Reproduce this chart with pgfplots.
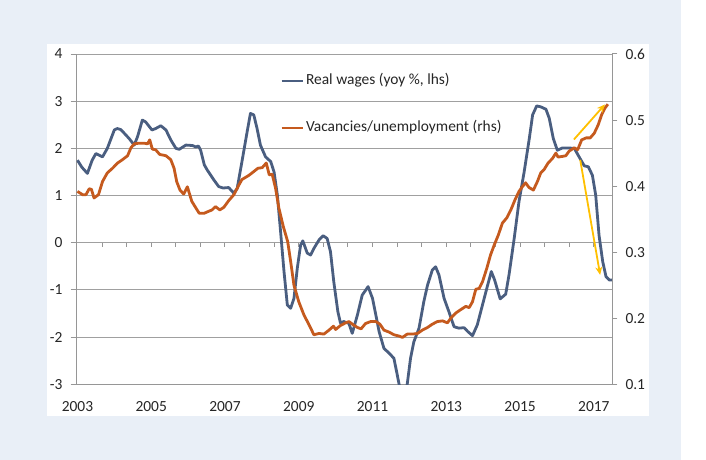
\documentclass[border=0pt]{standalone}
\usepackage{fontspec}
\setmainfont{Carlito}
\usepackage{pgfplots}
\pgfplotsset{compat=1.18}
\usetikzlibrary{arrows.meta}
\definecolor{bgblue}{RGB}{233,239,247}
\definecolor{blueline}{RGB}{74,94,128}
\definecolor{orangeline}{RGB}{197,90,30}
\definecolor{arrowyellow}{RGB}{255,192,0}
\definecolor{gridgray}{RGB}{160,160,160}
\definecolor{axisgray}{RGB}{150,150,150}
\definecolor{labelcolor}{RGB}{38,38,38}
\begin{document}
\begin{tikzpicture}
\useasboundingbox (0,0) rectangle (706bp,460bp);
\fill[bgblue] (0,0) rectangle (681bp,460bp);
\fill[white] (46.7bp,44bp) rectangle (649bp,416bp);
\begin{axis}[
  at={(76.7bp,75.7bp)}, anchor=south west,
  scale only axis, width=535.6bp, height=330.3bp,
  xmin=2002.98, xmax=2017.5, ymin=-3, ymax=4,
  axis lines*=left,
  axis line style={draw=axisgray, line width=1bp},
  ytick={-3,-2,-1,0,1,2,3,4}, yticklabels={-3,-2,-1,0,1,2,3,4},
  xtick={2003,2005,2007,2009,2011,2013,2015,2017},
  xticklabels={2003,2005,2007,2009,2011,2013,2015,2017},
  ymajorgrids, grid style={draw=gridgray, line width=1bp},
  tick align=outside,
  major tick length=6bp,
  ytick style={draw=axisgray, line width=1bp},
  xtick style={draw=none},
  tick label style={font=\fontsize{15.5}{18}\selectfont, text=labelcolor},
  yticklabel style={inner sep=0pt, xshift=-8bp},
  xticklabel style={inner sep=0pt, yshift=-11bp},
]
\pgfplotsinvokeforeach{2003.6667,2004.3333,2005,2005.6667,2006.3333,2007,2007.6667,2008.3333,2009,2009.6667,2010.3333,2011,2011.6667,2012.3333,2013,2013.6667,2014.3333,2015,2015.6667,2016.3333,2017}{
  \draw[axisgray, line width=1bp] (axis cs:#1,0) -- ([yshift=-4bp]axis cs:#1,0);
}
\addplot[blueline, line width=2.8bp, line join=round] table {
2003.00 1.75
2003.12 1.60
2003.27 1.47
2003.40 1.75
2003.50 1.89
2003.68 1.82
2003.81 2.00
2004.00 2.39
2004.08 2.42
2004.17 2.40
2004.27 2.32
2004.40 2.21
2004.54 2.07
2004.63 2.25
2004.76 2.60
2004.85 2.56
2005.02 2.39
2005.12 2.42
2005.26 2.48
2005.40 2.39
2005.53 2.18
2005.67 2.00
2005.76 1.98
2005.94 2.07
2006.12 2.06
2006.21 2.03
2006.28 2.05
2006.34 1.96
2006.44 1.65
2006.52 1.54
2006.70 1.33
2006.83 1.19
2006.95 1.16
2007.10 1.17
2007.24 1.05
2007.33 1.15
2007.46 1.72
2007.60 2.35
2007.69 2.74
2007.78 2.71
2007.87 2.42
2007.96 2.07
2008.10 1.82
2008.24 1.72
2008.33 1.50
2008.42 1.01
2008.50 0.30
2008.60 -0.61
2008.69 -1.32
2008.78 -1.39
2008.87 -1.18
2008.96 -0.54
2009.05 -0.05
2009.11 0.04
2009.23 -0.22
2009.32 -0.26
2009.41 -0.12
2009.55 0.06
2009.66 0.15
2009.77 0.09
2009.86 -0.19
2009.95 -0.83
2010.06 -1.46
2010.13 -1.70
2010.22 -1.67
2010.36 -1.71
2010.45 -1.92
2010.59 -1.53
2010.72 -1.11
2010.88 -0.93
2011.00 -1.18
2011.09 -1.53
2011.18 -1.89
2011.31 -2.24
2011.45 -2.34
2011.58 -2.45
2011.67 -2.80
2011.72 -3.00
2011.80 -3.25
2011.88 -3.20
2011.94 -3.00
2012.03 -2.45
2012.12 -2.10
2012.26 -1.81
2012.39 -1.25
2012.49 -0.90
2012.62 -0.58
2012.71 -0.51
2012.80 -0.68
2012.94 -1.18
2013.07 -1.46
2013.21 -1.78
2013.34 -1.81
2013.48 -1.80
2013.58 -1.88
2013.71 -1.97
2013.84 -1.74
2013.98 -1.32
2014.11 -0.93
2014.22 -0.61
2014.31 -0.79
2014.46 -1.19
2014.61 -1.09
2014.70 -0.68
2014.84 0.09
2014.97 0.87
2015.11 1.50
2015.25 2.21
2015.34 2.71
2015.45 2.90
2015.56 2.88
2015.70 2.83
2015.79 2.64
2015.90 2.21
2016.01 1.96
2016.15 2.01
2016.28 2.01
2016.47 2.00
2016.60 1.82
2016.74 1.63
2016.85 1.61
2016.96 1.43
2017.05 1.01
2017.14 0.16
2017.24 -0.40
2017.33 -0.72
2017.42 -0.79
2017.50 -0.79
};
\end{axis}
\begin{axis}[
  at={(76.7bp,75.7bp)}, anchor=south west,
  scale only axis, width=535.6bp, height=330.3bp,
  xmin=2002.98, xmax=2017.5, ymin=0.1, ymax=0.6,
  axis x line=none, axis y line*=right,
  axis line style={draw=axisgray, line width=1bp},
  ytick={0.1,0.2,0.3,0.4,0.5,0.6}, yticklabels={0.1,0.2,0.3,0.4,0.5,0.6},
  tick align=outside, major tick length=5bp,
  ytick style={draw=axisgray, line width=1bp},
  tick label style={font=\fontsize{15.5}{18}\selectfont, text=labelcolor},
  yticklabel style={inner sep=0pt, xshift=8bp},
  legend cell align=left,
  legend image code/.code={\draw[#1] (0bp,0bp) -- (21bp,0bp);},
  legend style={at={(0.380,0.847)}, anchor=west, draw=none, fill=none,
    inner sep=0pt, outer sep=0pt, row sep=32bp, column sep=2bp,
    font=\fontsize{15.5}{18}\selectfont, text=labelcolor,
    nodes={inner sep=0pt, text height=11bp, text depth=4bp}},
]
\addlegendimage{blueline, line width=2.8bp}
\addlegendentry{Real wages (yoy \%, lhs)}
\addplot[orangeline, line width=2.8bp, line join=round] table {
2003.00 0.392
2003.14 0.387
2003.23 0.387
2003.32 0.396
2003.38 0.395
2003.45 0.382
2003.57 0.387
2003.68 0.407
2003.81 0.420
2003.95 0.427
2004.09 0.435
2004.22 0.440
2004.36 0.446
2004.45 0.458
2004.54 0.464
2004.67 0.465
2004.81 0.465
2004.90 0.464
2004.96 0.470
2005.03 0.456
2005.12 0.455
2005.23 0.448
2005.40 0.446
2005.53 0.440
2005.62 0.427
2005.69 0.407
2005.78 0.394
2005.88 0.388
2005.98 0.399
2006.10 0.377
2006.21 0.367
2006.30 0.359
2006.44 0.359
2006.52 0.361
2006.65 0.364
2006.74 0.369
2006.86 0.364
2006.97 0.368
2007.10 0.378
2007.24 0.387
2007.38 0.402
2007.46 0.410
2007.55 0.413
2007.64 0.416
2007.78 0.422
2007.89 0.427
2008.01 0.428
2008.12 0.435
2008.20 0.417
2008.28 0.418
2008.37 0.397
2008.46 0.367
2008.58 0.339
2008.70 0.316
2008.78 0.286
2008.87 0.250
2009.00 0.225
2009.14 0.205
2009.28 0.190
2009.41 0.175
2009.55 0.177
2009.68 0.176
2009.82 0.182
2009.94 0.188
2010.00 0.183
2010.13 0.189
2010.27 0.193
2010.36 0.195
2010.48 0.190
2010.59 0.186
2010.69 0.184
2010.81 0.192
2010.95 0.195
2011.09 0.195
2011.20 0.191
2011.31 0.182
2011.45 0.179
2011.58 0.175
2011.72 0.173
2011.81 0.171
2011.94 0.176
2012.08 0.176
2012.22 0.177
2012.35 0.182
2012.49 0.186
2012.62 0.191
2012.76 0.195
2012.90 0.196
2013.03 0.193
2013.12 0.200
2013.26 0.208
2013.39 0.213
2013.53 0.218
2013.62 0.216
2013.71 0.225
2013.80 0.244
2013.89 0.245
2013.98 0.255
2014.10 0.276
2014.20 0.296
2014.30 0.311
2014.41 0.326
2014.52 0.344
2014.64 0.352
2014.75 0.364
2014.86 0.379
2014.97 0.392
2015.06 0.399
2015.15 0.405
2015.24 0.398
2015.36 0.394
2015.47 0.407
2015.56 0.420
2015.65 0.425
2015.76 0.435
2015.88 0.442
2015.97 0.450
2016.03 0.444
2016.15 0.445
2016.24 0.446
2016.33 0.453
2016.47 0.458
2016.56 0.455
2016.67 0.470
2016.79 0.473
2016.90 0.473
2017.01 0.480
2017.12 0.493
2017.21 0.508
2017.30 0.518
2017.38 0.524
};
\addlegendentry{Vacancies/unemployment (rhs)}
\draw[arrowyellow, line width=1.8bp, -{Stealth[length=8bp, width=7bp]}] (axis cs:2016.46,0.4706) -- (axis cs:2017.30,0.5236);
\draw[arrowyellow, line width=1.8bp, -{Stealth[length=8bp, width=7bp]}] (axis cs:2016.63,0.4398) -- (axis cs:2017.17,0.2656);
\end{axis}
\end{tikzpicture}
\end{document}
